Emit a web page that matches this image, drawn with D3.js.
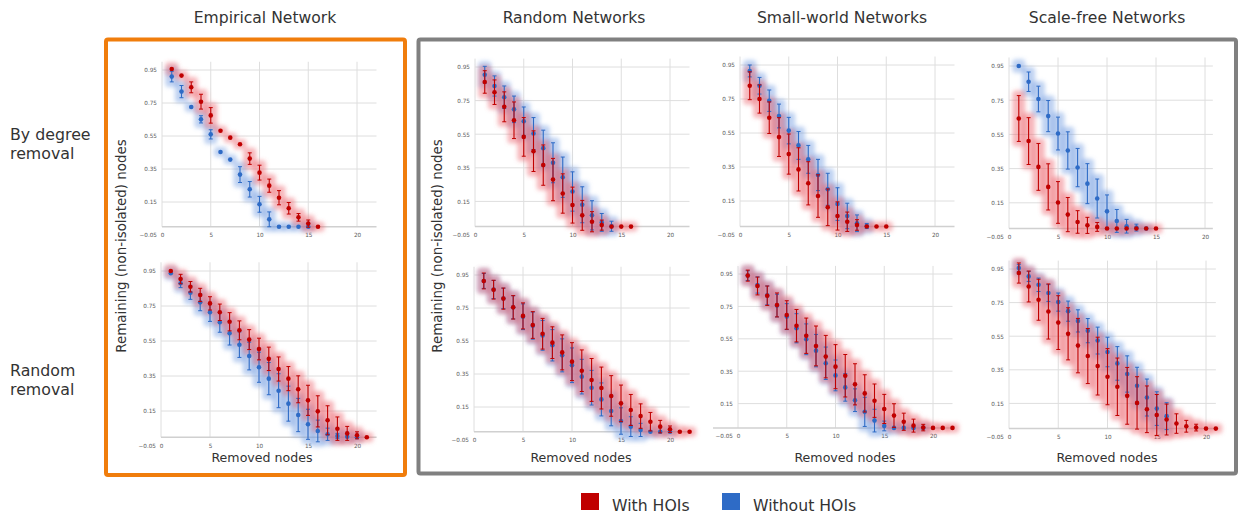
<!DOCTYPE html>
<html>
<head>
<meta charset="utf-8">
<script src="https://cdn.jsdelivr.net/npm/d3@7"></script>
<style>
  html, body { margin: 0; padding: 0; background: #fff; }
  svg { display: block; font-family: "DejaVu Sans", Verdana, sans-serif; }
</style>
</head>
<body>
<svg id="chart" width="1239" height="516"></svg>
<script>
// ---------------- DATA ----------------
const removedNodes = [1,2,3,4,5,6,7,8,9,10,11,12,13,14,15,16,17,18,19,20,21,22];
const xTicks = [0, 5, 10, 15, 20];
const yTicks = [-0.05, 0.15, 0.35, 0.55, 0.75, 0.95];
const columnTitles = ["Empirical Network", "Random Networks", "Small-world Networks", "Scale-free Networks"];
const rowLabels = [["By degree", "removal"], ["Random", "removal"]];
const seriesNames = ["With HOIs", "Without HOIs"];
const yAxisTitle = "Remaining (non-isolated) nodes";
const xAxisTitle = "Removed nodes";

// Empirical network, removal by degree
const empDegWith        = [0.956,0.916,0.845,0.758,0.675,0.582,0.540,0.500,0.413,0.328,0.249,0.176,0.112,0.057,0.019,0.000];
const empDegWithErr     = [0.010,0.000,0.033,0.045,0.047,0.000,0.000,0.000,0.035,0.045,0.040,0.043,0.035,0.023,0.022,0.000];
const empDegWithout     = [0.910,0.819,0.726,0.651,0.560,0.453,0.407,0.316,0.227,0.136,0.045,0.000,0.000,0.000,0.000];
const empDegWithoutErr  = [0.032,0.037,0.000,0.022,0.028,0.000,0.000,0.048,0.047,0.048,0.045,0.000,0.000,0.000,0.000];

// Empirical network, random removal
const empRndWith        = [0.950,0.904,0.860,0.813,0.765,0.714,0.660,0.611,0.558,0.504,0.448,0.390,0.335,0.274,0.211,0.148,0.097,0.049,0.022,0.011,0.000];
const empRndWithErr     = [0.010,0.027,0.030,0.038,0.038,0.047,0.052,0.054,0.057,0.062,0.067,0.069,0.069,0.077,0.086,0.089,0.083,0.067,0.040,0.020,0.000];
const empRndWithout     = [0.937,0.880,0.826,0.771,0.714,0.657,0.594,0.529,0.464,0.400,0.335,0.266,0.192,0.127,0.074,0.036,0.017,0.007,0.003,0.000];
const empRndWithoutErr  = [0.010,0.025,0.038,0.048,0.052,0.057,0.067,0.073,0.079,0.086,0.092,0.097,0.100,0.095,0.086,0.062,0.035,0.015,0.008,0.000];

// Random networks, removal by degree
const rndDegWith        = [0.861,0.800,0.713,0.633,0.534,0.449,0.366,0.280,0.197,0.128,0.067,0.029,0.009,0.000,0.000,0.000];
const rndDegWithErr     = [0.067,0.073,0.089,0.109,0.115,0.121,0.120,0.126,0.117,0.107,0.089,0.060,0.030,0.000,0.000,0.000];
const rndDegWithout     = [0.904,0.837,0.770,0.698,0.627,0.554,0.467,0.380,0.294,0.209,0.130,0.067,0.025,0.002];
const rndDegWithoutErr  = [0.050,0.060,0.067,0.079,0.085,0.095,0.107,0.119,0.120,0.117,0.107,0.087,0.053,0.030];

// Small-world networks, removal by degree
const swDegWith         = [0.828,0.750,0.640,0.526,0.426,0.336,0.254,0.179,0.113,0.062,0.028,0.009,0.000,0.000,0.000];
const swDegWithErr      = [0.082,0.083,0.093,0.114,0.118,0.127,0.127,0.125,0.108,0.083,0.057,0.031,0.000,0.000,0.000];
const swDegWithout      = [0.915,0.828,0.740,0.650,0.564,0.477,0.395,0.303,0.219,0.132,0.062,0.019,0.003];
const swDegWithoutErr   = [0.035,0.049,0.063,0.070,0.078,0.082,0.082,0.092,0.094,0.096,0.075,0.049,0.015];

// Scale-free networks, removal by degree
const sfDegWith         = [0.643,0.511,0.360,0.243,0.152,0.081,0.038,0.018,0.009,0.000,0.000,0.000,0.000,0.000,0.000];
const sfDegWithErr      = [0.134,0.137,0.137,0.135,0.122,0.100,0.066,0.047,0.026,0.010,0.010,0.010,0.000,0.000,0.000];
const sfDegWithout      = [0.950,0.858,0.757,0.657,0.555,0.456,0.356,0.262,0.175,0.100,0.044,0.013,0.005,0.000];
const sfDegWithoutErr   = [0.010,0.057,0.075,0.091,0.096,0.109,0.112,0.117,0.114,0.096,0.067,0.040,0.020,0.000];

// Random networks, random removal
const rndRndWith        = [0.914,0.861,0.807,0.754,0.702,0.647,0.594,0.540,0.481,0.425,0.370,0.314,0.265,0.217,0.172,0.132,0.095,0.061,0.031,0.015,0.000,0.000];
const rndRndWithErr     = [0.048,0.057,0.064,0.071,0.079,0.081,0.093,0.096,0.106,0.115,0.126,0.130,0.127,0.123,0.111,0.094,0.074,0.056,0.038,0.020,0.008,0.000];
const rndRndWithout     = [0.914,0.862,0.808,0.754,0.697,0.643,0.584,0.524,0.463,0.403,0.334,0.267,0.196,0.126,0.065,0.031,0.011,0.000,0.000,0.000];
const rndRndWithoutErr  = [0.045,0.055,0.062,0.070,0.078,0.082,0.090,0.095,0.100,0.105,0.105,0.105,0.100,0.090,0.080,0.060,0.040,0.010,0.000,0.000];

// Small-world networks, random removal
const swRndWith         = [0.940,0.876,0.816,0.759,0.697,0.631,0.569,0.506,0.440,0.378,0.322,0.269,0.213,0.168,0.117,0.076,0.038,0.014,0.002,0.000,0.000,0.000];
const swRndWithErr      = [0.034,0.055,0.060,0.074,0.088,0.100,0.109,0.123,0.131,0.136,0.131,0.127,0.115,0.103,0.090,0.073,0.053,0.040,0.020,0.005,0.000,0.000];
const swRndWithout      = [0.940,0.882,0.818,0.755,0.687,0.615,0.547,0.477,0.399,0.324,0.250,0.171,0.099,0.045,0.012,0.000,0.000,0.000,0.000];
const swRndWithoutErr   = [0.030,0.050,0.058,0.070,0.080,0.090,0.095,0.100,0.100,0.095,0.085,0.070,0.090,0.070,0.030,0.010,0.000,0.000,0.000];

// Scale-free networks, random removal
const sfRndWith         = [0.926,0.846,0.767,0.697,0.631,0.564,0.494,0.432,0.372,0.309,0.249,0.195,0.153,0.115,0.081,0.054,0.030,0.014,0.006,0.000,0.000];
const sfRndWithErr      = [0.060,0.092,0.122,0.164,0.160,0.155,0.162,0.164,0.172,0.167,0.171,0.169,0.156,0.139,0.122,0.092,0.058,0.035,0.020,0.008,0.000];
const sfRndWithout      = [0.956,0.906,0.856,0.807,0.753,0.699,0.641,0.583,0.524,0.456,0.388,0.325,0.255,0.185,0.119,0.074];
const sfRndWithoutErr   = [0.020,0.030,0.040,0.050,0.054,0.060,0.066,0.072,0.080,0.088,0.100,0.108,0.110,0.110,0.100,0.080];

// ---------------- LAYOUT ----------------
const colors = { with: "#c00000", without: "#2e6bc6" };
const glowColors = { with: "#ec6068", without: "#6f9ae0" };

const panels = [
  { x0: 162, x20: 357, xMax: 22, y95: 70,  ym05: 235, w: empDegWith, we: empDegWithErr, wo: empDegWithout, woe: empDegWithoutErr },
  { x0: 161, x20: 357, xMax: 22, y95: 271, ym05: 446, w: empRndWith, we: empRndWithErr, wo: empRndWithout, woe: empRndWithoutErr },
  { x0: 475, x20: 670, xMax: 22, y95: 67,  ym05: 235, w: rndDegWith, we: rndDegWithErr, wo: rndDegWithout, woe: rndDegWithoutErr },
  { x0: 740, x20: 935, xMax: 22, y95: 65,  ym05: 235, w: swDegWith,  we: swDegWithErr,  wo: swDegWithout,  woe: swDegWithoutErr },
  { x0: 1009, x20: 1205, xMax: 20.8, y95: 66, ym05: 237, w: sfDegWith, we: sfDegWithErr, wo: sfDegWithout, woe: sfDegWithoutErr },
  { x0: 474, x20: 670, xMax: 22, y95: 275, ym05: 440, w: rndRndWith, we: rndRndWithErr, wo: rndRndWithout, woe: rndRndWithoutErr },
  { x0: 738, x20: 933, xMax: 22, y95: 274, ym05: 436, w: swRndWith,  we: swRndWithErr,  wo: swRndWithout,  woe: swRndWithoutErr, axisLeft: 713 },
  { x0: 1009, x20: 1206, xMax: 21, y95: 269, ym05: 437, w: sfRndWith, we: sfRndWithErr, wo: sfRndWithout, woe: sfRndWithoutErr }
];

const svg = d3.select("#chart");
const defs = svg.append("defs");
defs.append("filter").attr("id", "glow")
  .attr("x", "-50%").attr("y", "-50%").attr("width", "200%").attr("height", "200%")
  .append("feGaussianBlur").attr("stdDeviation", 2.2);

// Frames
svg.append("rect").attr("x", 106).attr("y", 39.5).attr("width", 299).attr("height", 435.5)
  .attr("rx", 2).attr("fill", "none").attr("stroke", "#f07d0c").attr("stroke-width", 4);
svg.append("rect").attr("x", 418.5).attr("y", 39.5).attr("width", 817.5).attr("height", 434)
  .attr("rx", 2).attr("fill", "none").attr("stroke", "#808080").attr("stroke-width", 4);

// Column titles
const titleX = [265, 574, 842, 1107];
columnTitles.forEach((t, i) => {
  svg.append("text").attr("x", titleX[i]).attr("y", 22.5).attr("text-anchor", "middle")
    .attr("font-size", 15.6).attr("fill", "#333").text(t);
});

// Row labels
const rowY = [139.5, 375.5];
rowLabels.forEach((lines, i) => {
  lines.forEach((l, j) => {
    svg.append("text").attr("x", 10).attr("y", rowY[i] + j * 19.5)
      .attr("font-size", 15.8).attr("fill", "#333").text(l);
  });
});

// Y axis titles
[121, 437].forEach(xp => {
  svg.append("text").attr("transform", `translate(${xp},246) rotate(-90)`)
    .attr("text-anchor", "middle").attr("dominant-baseline", "central")
    .attr("font-size", 13.4).attr("fill", "#333").text(yAxisTitle);
});

// X axis titles
[262, 581, 845, 1107].forEach(xp => {
  svg.append("text").attr("x", xp).attr("y", 462).attr("text-anchor", "middle")
    .attr("font-size", 12.6).attr("fill", "#333").text(xAxisTitle);
});

// Panels
panels.forEach(p => {
  const x = d3.scaleLinear().domain([0, 20]).range([p.x0, p.x20]);
  const y = d3.scaleLinear().domain([-0.05, 0.95]).range([p.ym05, p.y95]);
  const g = svg.append("g");
  const right = x(p.xMax);
  const top = y(1.0);

  // gridlines
  g.selectAll(".hg").data(yTicks.filter(v => v > 0)).enter().append("line")
    .attr("x1", x(0)).attr("x2", right).attr("y1", d => y(d)).attr("y2", d => y(d))
    .attr("stroke", "#dedede").attr("stroke-width", 1);
  g.selectAll(".vg").data(xTicks).enter().append("line")
    .attr("x1", d => x(d)).attr("x2", d => x(d)).attr("y1", top).attr("y2", y(0))
    .attr("stroke", "#dedede").attr("stroke-width", 1);
  g.append("line").attr("x1", p.axisLeft || x(0)).attr("x2", right)
    .attr("y1", y(0)).attr("y2", y(0)).attr("stroke", "#d0d0d0").attr("stroke-width", 1.5);

  // axes (labels only)
  const ya = g.append("g").attr("transform", `translate(${x(0)},0)`)
    .call(d3.axisLeft(y).tickValues(yTicks).tickSize(0).tickPadding(5).tickFormat(d3.format(".2f")));
  const xa = g.append("g").attr("transform", `translate(0,${y(-0.05)})`)
    .call(d3.axisBottom(x).tickValues(xTicks).tickSize(0).tickPadding(0));
  [ya, xa].forEach(a => {
    a.select(".domain").remove();
    a.selectAll("text").attr("font-size", 5.7).attr("fill", "#595959")
      .attr("font-family", "DejaVu Sans, sans-serif");
  });
  xa.selectAll("text").attr("y", 0).attr("dy", "0.32em");

  const series = [
    { key: "without", vals: p.wo, errs: p.woe },
    { key: "with", vals: p.w, errs: p.we }
  ];

  // glows
  series.forEach(s => {
    const gg = g.append("g").attr("filter", "url(#glow)");
    gg.selectAll("rect").data(s.vals).enter().append("rect")
      .attr("x", (d, i) => x(removedNodes[i]) - 6.5)
      .attr("width", 13)
      .attr("y", (d, i) => y(d + s.errs[i]) - 5)
      .attr("height", (d, i) => y(d - s.errs[i]) - y(d + s.errs[i]) + 10)
      .attr("rx", 3.5)
      .attr("fill", glowColors[s.key]).attr("fill-opacity", 0.45);
  });

  // error bars and points
  series.forEach(s => {
    const c = colors[s.key];
    const mg = g.append("g");
    const data = s.vals.map((v, i) => ({ n: removedNodes[i], v, e: s.errs[i] })).filter(d => d.e > 0.012);
    mg.selectAll("line.eb").data(data).enter().append("line").attr("class", "eb")
      .attr("x1", d => x(d.n)).attr("x2", d => x(d.n))
      .attr("y1", d => y(d.v + d.e)).attr("y2", d => y(d.v - d.e))
      .attr("stroke", c).attr("stroke-width", 1.1);
    [1, -1].forEach((sign, k) => {
      mg.selectAll("line.cap" + k).data(data).enter().append("line").attr("class", "cap" + k)
        .attr("x1", d => x(d.n) - 2).attr("x2", d => x(d.n) + 2)
        .attr("y1", d => y(d.v + sign * d.e))
        .attr("y2", d => y(d.v + sign * d.e))
        .attr("stroke", c).attr("stroke-width", 1);
    });
    mg.selectAll("circle").data(s.vals).enter().append("circle")
      .attr("cx", (d, i) => x(removedNodes[i])).attr("cy", d => y(d))
      .attr("r", 2.3).attr("fill", c);
  });
});

// Legend
const legend = [
  { name: seriesNames[0], color: colors.with, x: 581 },
  { name: seriesNames[1], color: colors.without, x: 722 }
];
legend.forEach(l => {
  svg.append("rect").attr("x", l.x).attr("y", 493).attr("width", 18).attr("height", 17).attr("fill", l.color);
  svg.append("text").attr("x", l.x + 31).attr("y", 511).attr("font-size", 15.7).attr("fill", "#333").text(l.name);
});
</script>
</body>
</html>
